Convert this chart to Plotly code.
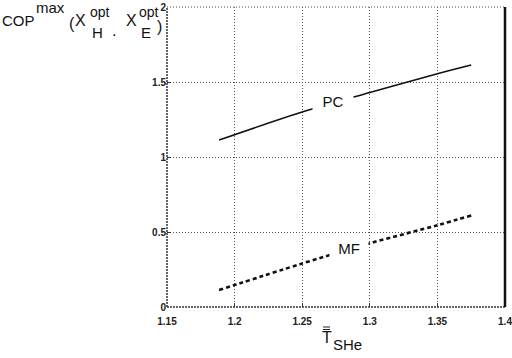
import plotly.graph_objects as go

# data
t_she = [1.1885, 1.25, 1.3, 1.35, 1.375]
cop_pc = [1.113, 1.30, 1.43, 1.555, 1.613]
cop_mf = [0.113, 0.29, 0.425, 0.545, 0.61]
x_ticks = [1.15, 1.2, 1.25, 1.3, 1.35, 1.4]
x_tick_labels = ["1.15", "1.2", "1.25", "1.3", "1.35", "1.4"]
y_ticks = [0, 0.5, 1, 1.5, 2]
y_tick_labels = ["0", "0.5", "1", "1.5", "2"]

W, H = 512, 358
L, R, T, B = 167, 7, 7, 51
PW, PH = W - L - R, H - T - B

def px(x):
    return (x - L) / PW

def py(y):
    return (H - B - y) / PH

fig = go.Figure()
fig.add_trace(go.Scatter(x=t_she, y=cop_pc, mode="lines", line=dict(color="#111", width=1.6, shape="spline"), showlegend=False))
fig.add_trace(go.Scatter(x=t_she, y=cop_mf, mode="lines", line=dict(color="#111", width=2.6, dash="4px,3px", shape="spline"), showlegend=False))

tickfont = dict(family="Liberation Sans, Arial", size=10, color="#222")
fig.update_xaxes(range=[1.15, 1.4], tickvals=x_ticks, ticktext=["<b>%s</b>" % t for t in x_tick_labels],
                 showgrid=True, gridcolor="#555", griddash="1px,2px", gridwidth=1, zeroline=False, showline=False,
                 ticks="inside", ticklen=4, tickcolor="#333", tickfont=tickfont, ticklabelstandoff=7,
                 ticklabeloverflow="allow", automargin=False)
fig.update_yaxes(range=[0, 2], tickvals=y_ticks, ticktext=["<b>%s</b>" % t for t in y_tick_labels],
                 showgrid=True, gridcolor="#555", griddash="1px,2px", gridwidth=1, zeroline=False, showline=False,
                 ticks="inside", ticklen=4, tickcolor="#333", tickfont=tickfont, ticklabeloverflow="allow",
                 automargin=False)

shapes = [
    dict(type="line", xref="paper", yref="paper", x0=0, x1=0, y0=0, y1=1, line=dict(color="#333", width=1.5, dash="2px,1px")),
    dict(type="line", xref="paper", yref="paper", x0=0, x1=1, y0=0, y1=0, line=dict(color="#333", width=1.5, dash="2px,1px")),
    dict(type="line", xref="paper", yref="paper", x0=0, x1=1, y0=1, y1=1, line=dict(color="#555", width=1, dash="1px,2px")),
    dict(type="line", xref="paper", yref="paper", x0=1, x1=1, y0=0, y1=1, line=dict(color="#111", width=2.5)),
    # double overbar on T
    dict(type="line", xref="paper", yref="paper", x0=px(323), x1=px(330), y0=py(327), y1=py(327), line=dict(color="#222", width=1)),
    dict(type="line", xref="paper", yref="paper", x0=px(323), x1=px(330), y0=py(329.5), y1=py(329.5), line=dict(color="#222", width=1)),
]

tf = "Liberation Sans, Arial"
pieces = [
    ("COP", 18.5, 20, 15),
    ("max", 50, 8, 15),
    ("(", 72, 23, 16),
    ("X", 81, 21, 16),
    ("opt", 100, 12, 14),
    ("H", 97.5, 32.5, 15),
    (".", 114, 31, 16),
    ("X", 131, 21, 16),
    ("opt", 149, 12, 14),
    ("E", 146, 32.5, 15),
    (")", 159, 26, 16),
    ("T", 326.5, 337.5, 16),
    ("SHe", 347.5, 344, 15),
]
ann = []
for txt, x, y, s in pieces:
    ann.append(dict(text=txt, x=px(x), y=py(y), xref="paper", yref="paper", showarrow=False,
                    xanchor="center", yanchor="middle", font=dict(family=tf, size=s, color="#111")))

ann.append(dict(text="PC", x=1.2728, y=1.368, xref="x", yref="y", showarrow=False, width=38, bgcolor="white",
                font=dict(family="Liberation Sans, Arial", size=15, color="#111")))
ann.append(dict(text="MF", x=1.2843, y=0.39, xref="x", yref="y", showarrow=False, width=36, bgcolor="white",
                font=dict(family="Liberation Sans, Arial", size=15, color="#111")))

fig.update_layout(width=W, height=H, margin=dict(l=L, r=R, t=T, b=B), plot_bgcolor="white", paper_bgcolor="white",
                  shapes=shapes, annotations=ann, showlegend=False)

fig.write_html("out.html")
